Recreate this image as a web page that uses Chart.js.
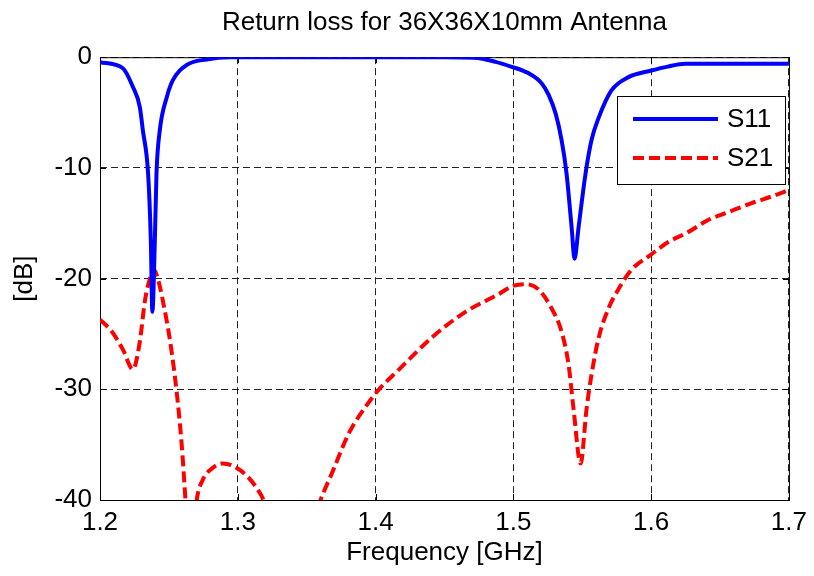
<!DOCTYPE html>
<html>
<head>
<meta charset="utf-8">
<script src="https://cdn.jsdelivr.net/npm/chart.js@4/dist/chart.umd.min.js"></script>
<style>
  body { margin: 0; background: #fff; }
  canvas { display: block; }
</style>
</head>
<body>
<canvas id="chart" width="814" height="576"></canvas>
<script>
// S11 readings (GHz, dB)
const s11Freq = [1.200, 1.2166, 1.2239, 1.2289, 1.2311, 1.2349, 1.2369, 1.2380, 1.2398, 1.2410,
  1.2434, 1.2485, 1.2528, 1.2630, 1.2774, 1.2941, 1.45, 1.4714, 1.4871, 1.4988,
  1.5111, 1.5205, 1.5256, 1.5307, 1.535, 1.5386, 1.5423, 1.5444, 1.5473, 1.5524,
  1.5567, 1.5618, 1.5712, 1.5836, 1.6002, 1.612, 1.6248, 1.70];
const s11Val = [-0.45, -1.0, -2.7, -4.5, -6.6, -10.5, -16.6, -23, -16.6, -10.5,
  -6.6, -3.6, -2.1, -0.7, -0.2, 0, 0, -0.05, -0.42, -0.87,
  -1.45, -2.35, -3.4, -5.1, -7.5, -10.5, -15.4, -18.2, -15.4, -10.5,
  -7.5, -5.5, -3.0, -1.8, -1.2, -0.85, -0.6, -0.6];

// S21 readings (GHz, dB) - goes below -40 where the curve leaves the axes
const s21Freq = [1.200, 1.2087, 1.2166, 1.2239, 1.2289, 1.2326, 1.2362, 1.2391, 1.242, 1.2456,
  1.2507, 1.2557, 1.2593, 1.2622, 1.2655, 1.2702, 1.2745, 1.2818, 1.289, 1.2962,
  1.3064, 1.3136, 1.3194, 1.34, 1.3592, 1.3686, 1.3809, 1.3932, 1.4026, 1.4171,
  1.441, 1.4653, 1.4894, 1.4988, 1.509, 1.5184, 1.5278, 1.535, 1.5401, 1.5437,
  1.5488, 1.5531, 1.5567, 1.5618, 1.569, 1.5775, 1.5857, 1.5992, 1.6124, 1.6269,
  1.6414, 1.6559, 1.6725, 1.687, 1.70];
const s21Val = [-23.7, -24.8, -26.4, -28.2, -25.7, -22, -20, -19.2, -20, -22,
  -25.5, -30.3, -35, -40.3, -46, -40, -38.2, -37.1, -36.7, -36.9,
  -37.8, -38.9, -40.2, -48, -40.3, -37.5, -33.9, -31.5, -30, -28.2,
  -25.3, -23, -21.4, -20.7, -20.5, -21, -22.7, -24.8, -27.8, -31.8,
  -36.7, -31.8, -28.7, -25.4, -22.7, -20.7, -19.2, -17.9, -16.7, -15.8,
  -14.7, -14.0, -13.2, -12.6, -12.0];

const seriesNames = ['S11', 'S21'];
const xTicks = [1.2, 1.3, 1.4, 1.5, 1.6, 1.7];
const yTicks = [0, -10, -20, -30, -40];

const FONT = '"Liberation Sans", Arial, Helvetica, sans-serif';
Chart.defaults.font.family = FONT;
Chart.defaults.font.size = 26;
Chart.defaults.color = '#000';

const toPoints = (xs, ys) => xs.map((x, i) => ({x: x, y: ys[i]}));

// box around the axes, inward ticks, and the boxed legend
const matlabFrame = {
  id: 'matlabFrame',
  beforeDatasetsDraw(chart) {
    const {ctx, chartArea: a, scales} = chart;
    ctx.save();
    ctx.strokeStyle = '#000';
    ctx.lineWidth = 1;
    ctx.setLineDash([]);
    ctx.strokeRect(a.left + 0.5, a.top + 0.5, a.width, a.height);
    ctx.beginPath();
    xTicks.forEach(t => {
      const px = Math.round(scales.x.getPixelForValue(t)) + 0.5;
      ctx.moveTo(px, a.bottom); ctx.lineTo(px, a.bottom - 6);
      ctx.moveTo(px, a.top); ctx.lineTo(px, a.top + 6);
    });
    yTicks.forEach(t => {
      const py = Math.round(scales.y.getPixelForValue(t)) + 0.5;
      ctx.moveTo(a.left, py); ctx.lineTo(a.left + 6, py);
      ctx.moveTo(a.right, py); ctx.lineTo(a.right - 6, py);
    });
    ctx.stroke();
    ctx.restore();
  },
  afterDraw(chart) {
    const {ctx} = chart;
    const x0 = 617, y0 = 96, w = 168, h = 88;
    ctx.save();
    ctx.fillStyle = '#fff';
    ctx.fillRect(x0, y0, w, h);
    ctx.strokeStyle = '#000';
    ctx.lineWidth = 1;
    ctx.strokeRect(x0 + 0.5, y0 + 0.5, w, h);
    chart.data.datasets.forEach((ds, i) => {
      const y = 119 + i * 39;
      ctx.strokeStyle = ds.borderColor;
      ctx.lineWidth = ds.borderWidth;
      ctx.setLineDash(ds.borderDash || []);
      ctx.lineCap = 'butt';
      ctx.beginPath();
      ctx.moveTo(633, y);
      ctx.lineTo(718, y);
      ctx.stroke();
      ctx.setLineDash([]);
      ctx.fillStyle = '#000';
      ctx.font = '26px ' + FONT;
      ctx.textBaseline = 'middle';
      ctx.textAlign = 'left';
      ctx.fillText(ds.label, 727, y + 1);
    });
    ctx.restore();
  }
};

new Chart(document.getElementById('chart'), {
  type: 'line',
  data: {
    datasets: [
      {
        label: seriesNames[0],
        data: toPoints(s11Freq, s11Val),
        borderColor: '#0000ff',
        borderWidth: 4,
        pointRadius: 0,
        cubicInterpolationMode: 'monotone',
        borderJoinStyle: 'round'
      },
      {
        label: seriesNames[1],
        data: toPoints(s21Freq, s21Val),
        borderColor: '#ff0000',
        borderWidth: 4,
        borderDash: [11, 5],
        borderCapStyle: 'butt',
        pointRadius: 0,
        cubicInterpolationMode: 'monotone'
      }
    ]
  },
  options: {
    responsive: false,
    animation: false,
    layout: { padding: { left: 0, right: 23, top: 0, bottom: 0 } },
    plugins: {
      legend: { display: false },
      tooltip: { enabled: false },
      title: {
        display: true,
        text: 'Return loss for 36X36X10mm Antenna',
        fullSize: false,
        color: '#000',
        font: { size: 26, weight: 'normal' },
        padding: { top: 7, bottom: 19 }
      }
    },
    scales: {
      x: {
        type: 'linear',
        min: 1.2,
        max: 1.7,
        afterFit(scale) { scale.height = 76; },
        afterBuildTicks(scale) { scale.ticks = xTicks.map(v => ({value: v})); },
        ticks: { padding: 7, callback: v => v.toFixed(1) },
        grid: { color: '#222', lineWidth: 1, drawTicks: false },
        border: { display: false, dash: [7, 4] },
        title: { display: true, text: 'Frequency [GHz]', padding: { top: 0, bottom: 8 } }
      },
      y: {
        min: -40,
        max: 0,
        afterFit(scale) { scale.width = 100; },
        afterBuildTicks(scale) { scale.ticks = yTicks.map(v => ({value: v})); },
        ticks: { padding: 8 },
        grid: { color: '#222', lineWidth: 1, drawTicks: false },
        border: { display: false, dash: [7, 4] },
        title: { display: true, text: '[dB]', padding: { top: 9, bottom: 0 } }
      }
    }
  },
  plugins: [matlabFrame]
});
</script>
</body>
</html>
